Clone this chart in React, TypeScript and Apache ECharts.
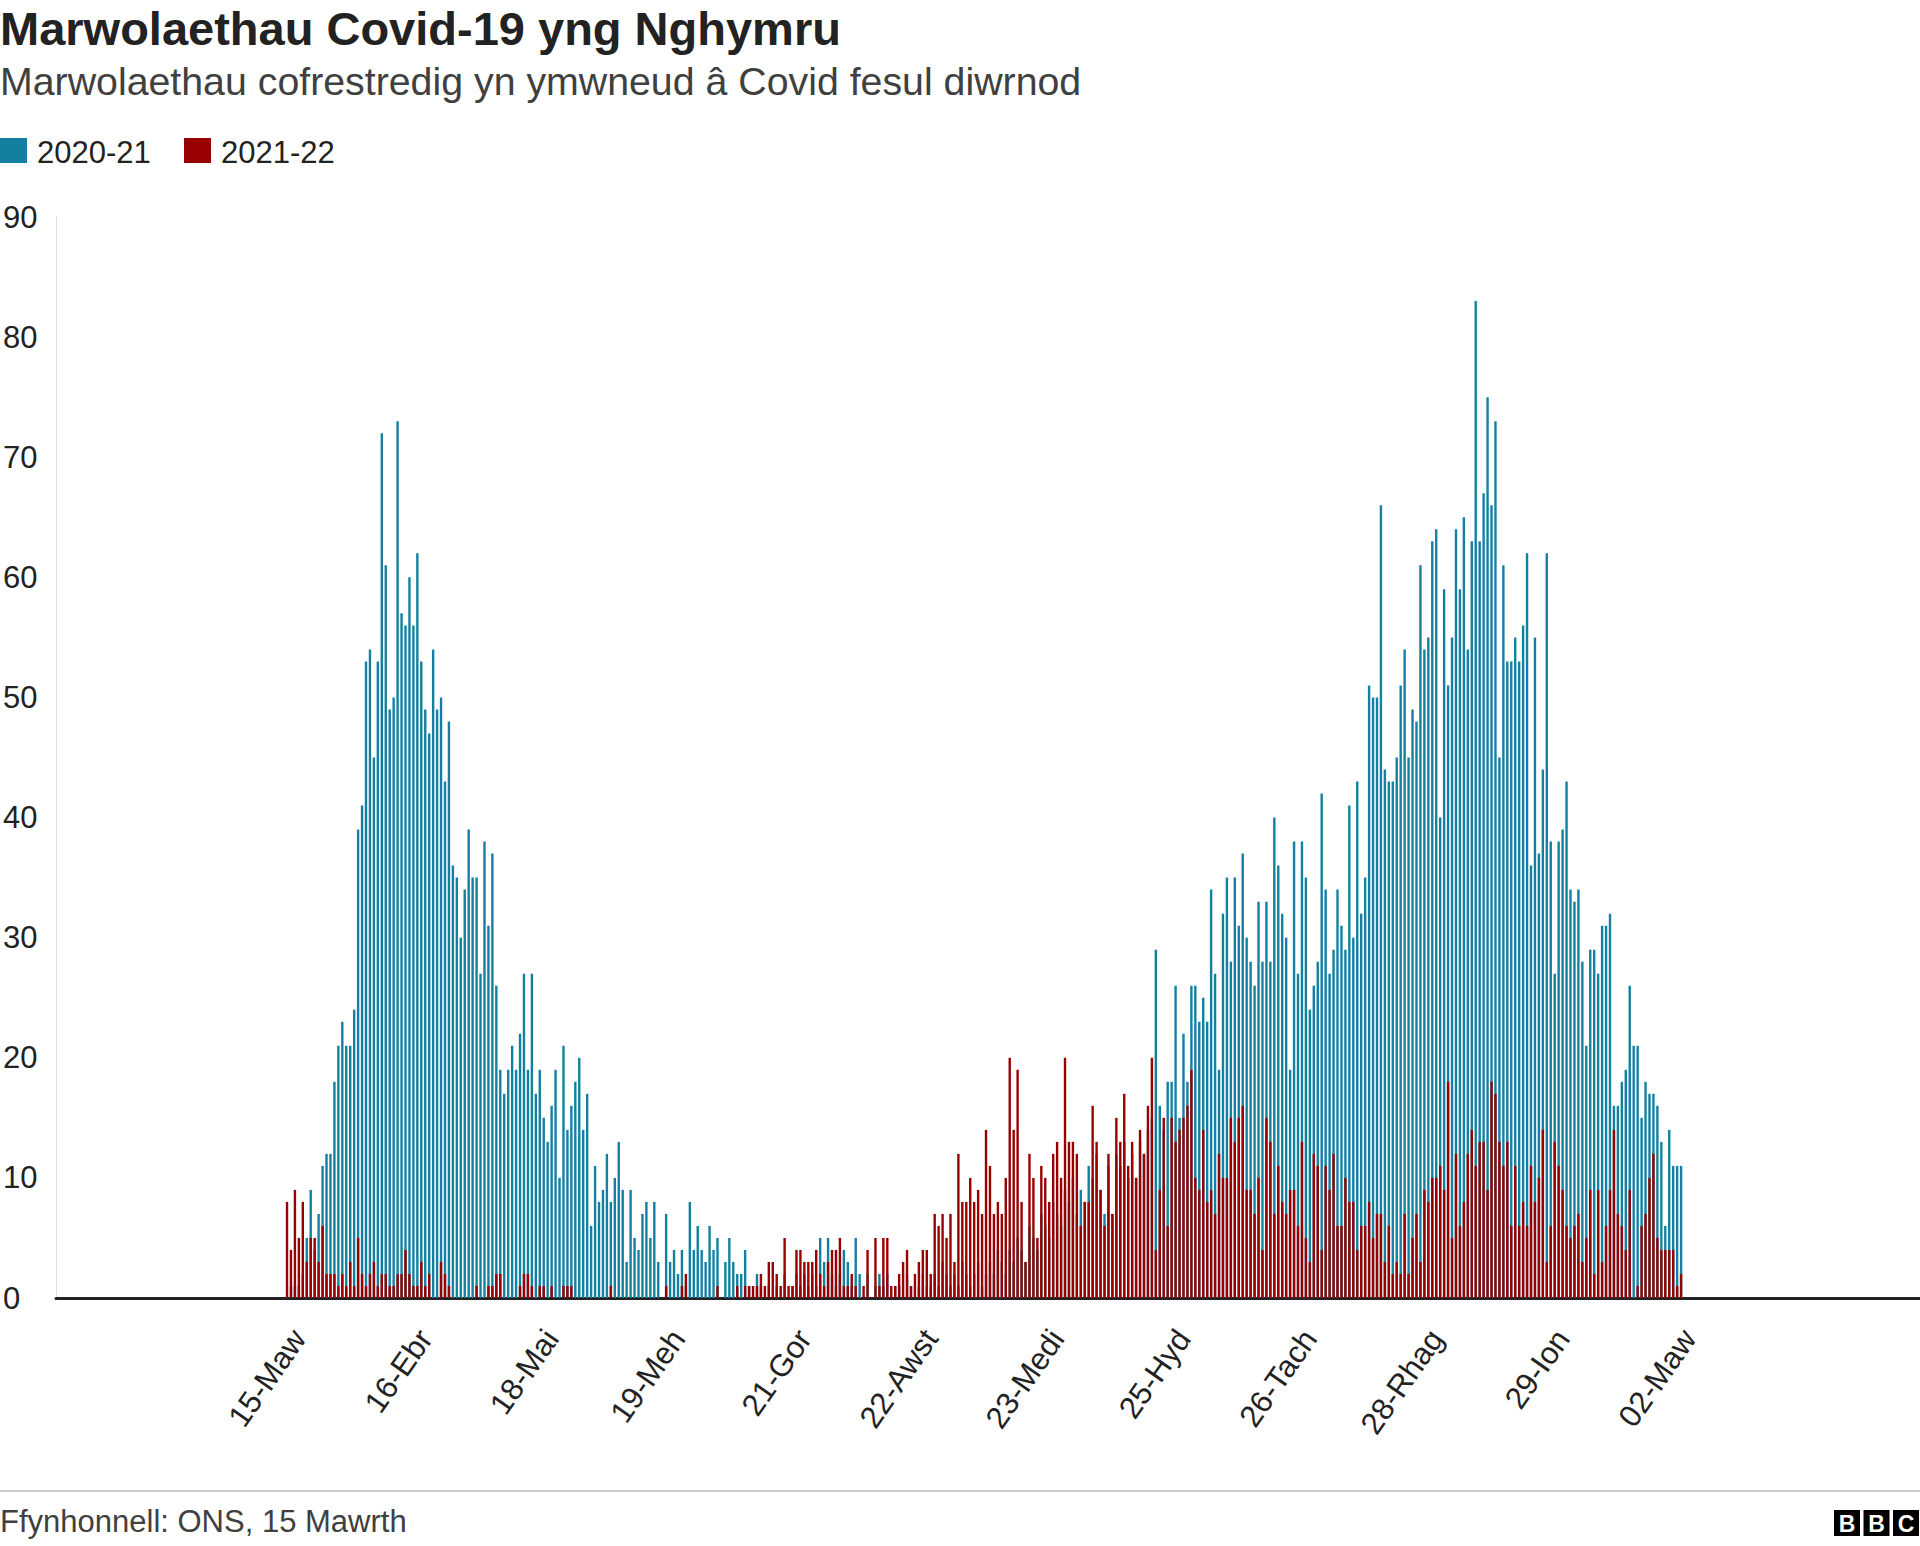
import React, { useEffect, useRef } from 'react';
import * as echarts from 'echarts';

const titleText = 'Marwolaethau Covid-19 yng Nghymru';
const subtitleText = 'Marwolaethau cofrestredig yn ymwneud â Covid fesul diwrnod';
const sourceText = 'Ffynhonnell: ONS, 15 Mawrth';
const seriesNames = ['2020-21', '2021-22'];
const seriesColors = ['#1380A1', '#990000'];

const tickLabels = ['15-Maw', '16-Ebr', '18-Mai', '19-Meh', '21-Gor', '22-Awst', '23-Medi', '25-Hyd', '26-Tach', '28-Rhag', '29-Ion', '02-Maw'];
const firstTickDay = 3; // the 15-Maw tick falls three bars after the first bar
const tickStep = 32;
const padBefore = 58;
const padAfter = 60;

const yTicks = [0, 10, 20, 30, 40, 50, 60, 70, 80, 90];

// daily deaths, 2020-21 season
const deaths2020 = [
  0, 1, 1, 1, 2, 5, 9, 4, 7, 11,
  12, 12, 18, 21, 23, 21, 21, 24, 39, 41,
  53, 54, 45, 53, 72, 61, 49, 50, 73, 57,
  56, 60, 56, 62, 53, 49, 47, 54, 49, 50,
  43, 48, 36, 35, 30, 34, 39, 35, 35, 27,
  38, 31, 37, 26, 19, 17, 19, 21, 19, 22,
  27, 19, 27, 17, 19, 15, 13, 16, 19, 10,
  21, 14, 16, 18, 20, 14, 17, 6, 11, 8,
  9, 12, 8, 10, 13, 9, 3, 9, 5, 4,
  7, 8, 5, 8, 3, 0, 7, 3, 4, 2,
  4, 1, 8, 4, 6, 4, 3, 6, 4, 5,
  0, 3, 5, 3, 2, 2, 4, 1, 0, 2,
  1, 0, 1, 0, 1, 0, 2, 0, 1, 2,
  1, 2, 1, 2, 1, 5, 3, 5, 2, 1,
  2, 4, 3, 1, 5, 2, 0, 2, 0, 1,
  2, 1, 2, 0, 1, 1, 0, 2, 1, 0,
  1, 2, 1, 1, 2, 1, 3, 2, 1, 2,
  1, 3, 2, 1, 2, 3, 1, 2, 3, 2,
  4, 3, 2, 4, 3, 5, 4, 3, 6, 5,
  4, 7, 6, 5, 8, 7, 6, 9, 8, 10,
  7, 9, 8, 11, 10, 12, 9, 7, 11, 7,
  12, 11, 13, 10, 12, 10, 13, 12, 14, 15,
  29, 16, 14, 18, 18, 26, 15, 22, 18, 26,
  26, 23, 25, 23, 34, 27, 19, 32, 35, 28,
  35, 31, 37, 30, 28, 26, 33, 28, 33, 28,
  40, 36, 32, 30, 19, 38, 27, 38, 35, 24,
  26, 28, 42, 34, 27, 29, 34, 31, 29, 41,
  30, 43, 32, 35, 51, 50, 50, 66, 44, 43,
  43, 45, 51, 54, 45, 49, 48, 61, 54, 55,
  63, 64, 40, 59, 51, 55, 64, 59, 65, 54,
  63, 83, 63, 67, 75, 66, 73, 45, 61, 53,
  53, 55, 53, 56, 62, 36, 55, 37, 44, 62,
  38, 27, 38, 39, 43, 34, 33, 34, 28, 21,
  29, 29, 27, 31, 31, 32, 16, 16, 18, 19,
  26, 21, 21, 15, 18, 17, 17, 16, 13, 6,
  14, 11, 11, 11,
];

// daily deaths, 2021-22 season (same calendar days)
const deaths2021 = [
  8, 4, 9, 5, 8, 3, 5, 5, 3, 6,
  2, 2, 2, 1, 2, 1, 3, 1, 5, 2,
  1, 2, 3, 1, 2, 2, 1, 1, 2, 2,
  4, 2, 1, 1, 3, 1, 2, 0, 0, 3,
  2, 1, 0, 0, 0, 0, 0, 0, 1, 0,
  0, 1, 1, 2, 2, 0, 0, 0, 0, 1,
  2, 2, 1, 0, 1, 1, 0, 1, 0, 0,
  1, 1, 1, 0, 0, 0, 0, 0, 0, 0,
  0, 0, 1, 0, 0, 0, 0, 0, 0, 0,
  0, 0, 0, 0, 0, 0, 1, 0, 0, 0,
  1, 2, 0, 0, 0, 0, 0, 0, 0, 1,
  0, 0, 0, 0, 1, 0, 1, 1, 1, 1,
  2, 1, 3, 3, 2, 1, 5, 1, 1, 4,
  4, 3, 3, 3, 4, 2, 1, 3, 4, 4,
  5, 1, 1, 2, 1, 0, 1, 4, 0, 5,
  1, 5, 5, 1, 1, 2, 3, 4, 1, 2,
  3, 4, 4, 2, 7, 6, 7, 5, 7, 3,
  12, 8, 8, 10, 8, 9, 7, 14, 11, 7,
  8, 7, 10, 20, 14, 19, 8, 3, 12, 10,
  5, 11, 10, 8, 12, 13, 10, 20, 13, 13,
  12, 6, 8, 8, 16, 13, 9, 6, 12, 7,
  15, 13, 17, 11, 13, 10, 14, 12, 16, 20,
  4, 9, 15, 6, 15, 13, 14, 15, 16, 19,
  10, 9, 14, 8, 9, 7, 12, 10, 10, 15,
  13, 15, 16, 9, 9, 7, 10, 4, 15, 13,
  7, 11, 8, 7, 9, 9, 6, 13, 5, 3,
  12, 11, 4, 11, 9, 12, 6, 6, 10, 8,
  8, 4, 6, 6, 8, 5, 7, 7, 3, 6,
  2, 3, 2, 7, 2, 5, 7, 3, 9, 8,
  10, 10, 11, 9, 18, 5, 12, 6, 8, 12,
  14, 11, 13, 13, 9, 18, 17, 13, 11, 13,
  6, 11, 6, 8, 6, 11, 8, 10, 14, 3,
  6, 13, 11, 9, 6, 5, 6, 7, 3, 5,
  9, 2, 9, 3, 6, 9, 14, 7, 6, 4,
  9, 0, 1, 6, 7, 10, 12, 5, 4, 4,
  4, 4, 1, 2,
];

const FONT = '"Liberation Sans", Arial, Helvetica, sans-serif';

export default function App() {
  const ref = useRef<HTMLDivElement>(null);

  useEffect(() => {
    if (!ref.current) return;
    const chart = echarts.init(ref.current, null, { renderer: 'svg' });

    const n = deaths2020.length;
    const total = padBefore + n + padAfter;
    const categories = Array.from({ length: total }, (_, i) => String(i));
    const labelAt: Record<number, string> = {};
    tickLabels.forEach((t, k) => {
      labelAt[padBefore + firstTickDay + k * tickStep] = t;
    });
    const padded = (arr: number[]) => {
      const out: (number | string)[] = [];
      for (let i = 0; i < padBefore; i++) out.push('-');
      arr.forEach((v) => out.push(v));
      for (let i = 0; i < padAfter; i++) out.push('-');
      return out;
    };

    const legendItems: any[] = [];
    const legendX = [0, 184];
    seriesNames.forEach((name, i) => {
      legendItems.push({
        type: 'rect',
        shape: { x: legendX[i], y: 138, width: 27, height: 25 },
        style: { fill: seriesColors[i] },
      });
      legendItems.push({
        type: 'text',
        x: legendX[i] + 37,
        y: 152,
        style: { text: name, fill: '#222222', fontSize: 31, fontFamily: FONT, verticalAlign: 'middle', align: 'left' },
      });
    });

    const logoLetters = ['B', 'B', 'C'];
    const logo: any[] = [];
    logoLetters.forEach((l, i) => {
      const x0 = 1834 + i * 29.5;
      logo.push({
        type: 'rect',
        shape: { x: x0, y: 1510, width: 26, height: 26 },
        style: { fill: '#000000' },
      });
      logo.push({
        type: 'text',
        x: x0 + 13,
        y: 1524,
        style: { text: l, fill: '#ffffff', fontSize: 23, fontWeight: 'bold', fontFamily: FONT, align: 'center', verticalAlign: 'middle' },
      });
    });

    chart.setOption({
      animation: false,
      backgroundColor: '#ffffff',
      grid: { left: 55, right: 0, top: 217, bottom: 248, containLabel: false },
      xAxis: {
        type: 'category',
        data: categories,
        boundaryGap: true,
        axisLine: { show: true, lineStyle: { color: '#222222', width: 3 } },
        axisTick: { show: false },
        splitLine: { show: false },
        axisLabel: {
          interval: (i: number) => labelAt[i] !== undefined,
          formatter: (v: string) => labelAt[Number(v)] ?? '',
          rotate: 55,
          margin: 35,
          fontSize: 31,
          color: '#222222',
          fontFamily: FONT,
        },
      },
      yAxis: {
        type: 'value',
        min: yTicks[0],
        max: yTicks[yTicks.length - 1],
        interval: 10,
        axisLine: { show: true, lineStyle: { color: '#dddddd', width: 1 } },
        axisTick: { show: false },
        splitLine: { show: false },
        axisLabel: {
          align: 'left',
          margin: 53,
          fontSize: 31,
          color: '#222222',
          fontFamily: FONT,
        },
      },
      series: [
        {
          name: seriesNames[0],
          type: 'bar',
          data: padded(deaths2020),
          barWidth: 2.4,
          barGap: '-100%',
          itemStyle: { color: seriesColors[0] },
          silent: true,
        },
        {
          name: seriesNames[1],
          type: 'bar',
          data: padded(deaths2021),
          barWidth: 2.4,
          barGap: '-100%',
          itemStyle: { color: seriesColors[1] },
          silent: true,
        },
      ],
      graphic: [
        {
          type: 'text',
          x: 0,
          y: 28,
          style: { text: titleText, fill: '#222222', fontSize: 47, fontWeight: 'bold', fontFamily: FONT, verticalAlign: 'middle', align: 'left' },
        },
        {
          type: 'text',
          x: 0,
          y: 81,
          style: { text: subtitleText, fill: '#404040', fontSize: 39.3, fontFamily: FONT, verticalAlign: 'middle', align: 'left' },
        },
        ...legendItems,
        {
          type: 'line',
          shape: { x1: 0, y1: 1491, x2: 1920, y2: 1491 },
          style: { stroke: '#cccccc', lineWidth: 2 },
        },
        {
          type: 'text',
          x: 0,
          y: 1521,
          style: { text: sourceText, fill: '#404040', fontSize: 31, fontFamily: FONT, verticalAlign: 'middle', align: 'left' },
        },
        ...logo,
      ],
    });

    return () => {
      chart.dispose();
    };
  }, []);

  return (
    <div
      ref={ref}
      style={{ position: 'absolute', left: 0, top: 0, width: 1920, height: 1546, background: '#ffffff' }}
    />
  );
}
